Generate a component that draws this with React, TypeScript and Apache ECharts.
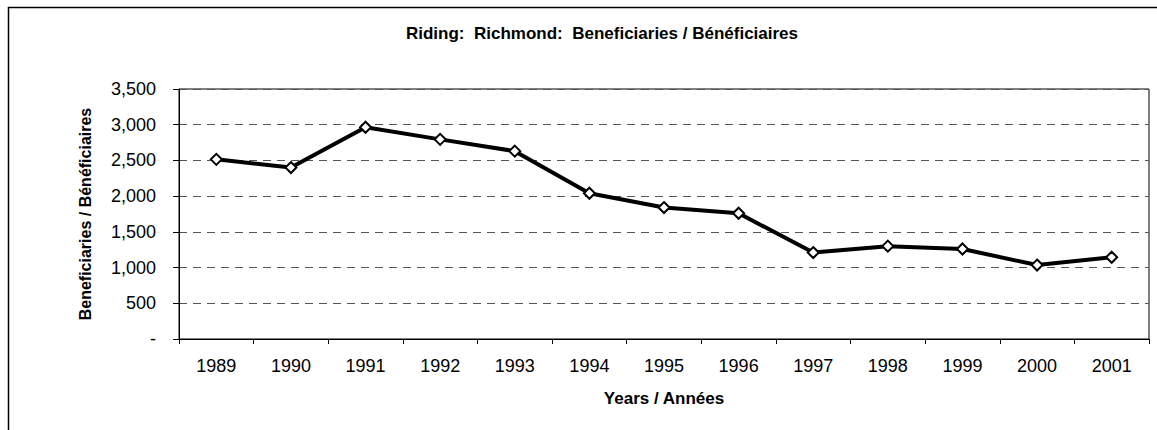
import React, { useEffect, useRef } from "react";
import * as echarts from "echarts";

const years = ["1989", "1990", "1991", "1992", "1993", "1994", "1995", "1996", "1997", "1998", "1999", "2000", "2001"];
const beneficiaries = [2515, 2400, 2965, 2795, 2630, 2040, 1840, 1760, 1210, 1300, 1260, 1035, 1145];
const titleText = "Riding:  Richmond:  Beneficiaries / Bénéficiaires";
const yAxisName = "Beneficiaries / Bénéficiaires";
const xAxisName = "Years / Années";

export default function App() {
  const ref = useRef<HTMLDivElement>(null);
  useEffect(() => {
    if (!ref.current) return;
    const chart = echarts.init(ref.current, null, { renderer: "svg" });
    const narrow = "'Liberation Sans Narrow', 'Arial Narrow', 'Liberation Sans', Arial, sans-serif";
    const sans = "'Liberation Sans', Arial, sans-serif";
    chart.setOption({
      animation: false,
      backgroundColor: "#fff",
      title: {
        text: titleText,
        left: 597,
        textAlign: "center",
        top: 20,
        textStyle: { fontFamily: narrow, fontWeight: "bold", fontSize: 17, color: "#000" },
      },
      graphic: [
        {
          type: "rect",
          shape: { x: 8.5, y: 7.5, width: 1200, height: 500 },
          style: { fill: "none", stroke: "#000", lineWidth: 1.5 },
          silent: true,
        },
      ],
      grid: { left: 179, right: 8, top: 89, bottom: 91, show: true, borderColor: "#000", borderWidth: 1 },
      xAxis: {
        type: "category",
        data: years,
        boundaryGap: true,
        name: xAxisName,
        nameLocation: "middle",
        nameGap: 51,
        nameTextStyle: { fontFamily: narrow, fontWeight: "bold", fontSize: 17, color: "#000" },
        axisLine: { lineStyle: { color: "#000", width: 1 } },
        axisTick: { show: true, inside: false, length: 5, alignWithLabel: false, lineStyle: { color: "#000" } },
        axisLabel: { fontFamily: sans, fontSize: 18, color: "#000", margin: 18, interval: 0 },
        splitLine: { show: false },
      },
      yAxis: {
        type: "value",
        min: 0,
        max: 3500,
        interval: 500,
        name: yAxisName,
        nameLocation: "middle",
        nameGap: 86,
        nameTextStyle: { fontFamily: narrow, fontWeight: "bold", fontSize: 16, color: "#000" },
        axisLine: { show: true, lineStyle: { color: "#000", width: 1 } },
        axisTick: { show: true, inside: false, length: 6, lineStyle: { color: "#000" } },
        axisLabel: {
          fontFamily: sans,
          fontSize: 18,
          color: "#000",
          margin: 23,
          formatter: (v: number) => (v === 0 ? "-" : v.toLocaleString("en-US")),
        },
        splitLine: { show: true, lineStyle: { color: "#555", type: [8, 6], width: 1 } },
      },
      series: [
        {
          type: "line",
          data: beneficiaries,
          lineStyle: { color: "#000", width: 4 },
          symbol: "diamond",
          symbolSize: 11,
          itemStyle: { color: "#fff", borderColor: "#000", borderWidth: 2 },
        },
      ],
    });
    return () => chart.dispose();
  }, []);
  return <div ref={ref} style={{ position: "fixed", left: 0, top: 0, width: 1157, height: 430 }} />;
}
